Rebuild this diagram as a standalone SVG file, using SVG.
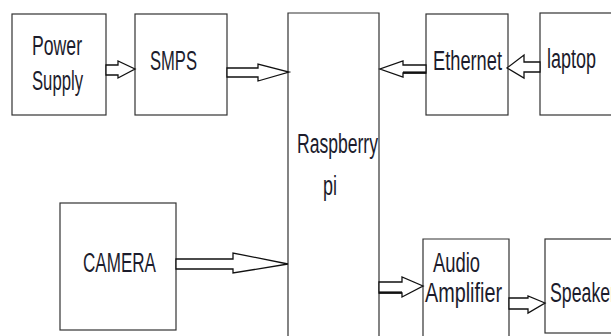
<svg xmlns="http://www.w3.org/2000/svg" width="611" height="336" viewBox="0 0 611 336">
<style>
.box{fill:#fff;stroke:#333;stroke-width:1.2}
.lbl{font-family:"Liberation Sans",Arial,sans-serif;font-size:27px;fill:#1c1c2c}
.arr{fill:#fff;stroke:#111;stroke-width:1.3;stroke-linejoin:miter}
.thick{stroke:#111;stroke-width:2.2}
</style>
<rect width="611" height="336" fill="#fff"/>
<g id="power-supply">
<rect class="box" x="12" y="14" width="94" height="101"/>
<text class="lbl" x="32" y="55" textLength="50" lengthAdjust="spacingAndGlyphs">Power</text>
<text class="lbl" x="32" y="90" textLength="51" lengthAdjust="spacingAndGlyphs">Supply</text>
</g>
<g id="smps">
<rect class="box" x="135" y="14" width="92" height="101"/>
<text class="lbl" x="150" y="70" textLength="47" lengthAdjust="spacingAndGlyphs">SMPS</text>
</g>
<g id="raspberry-pi">
<path class="box" d="M288,340 V13 H379 V340"/>
<text class="lbl" x="297" y="153" textLength="81" lengthAdjust="spacingAndGlyphs">Raspberry</text>
<text class="lbl" x="323" y="195" textLength="14" lengthAdjust="spacingAndGlyphs">pi</text>
</g>
<g id="ethernet">
<rect class="box" x="426" y="14" width="82" height="101"/>
<text class="lbl" x="433" y="70" textLength="69" lengthAdjust="spacingAndGlyphs">Ethernet</text>
</g>
<g id="laptop">
<rect class="box" x="540" y="13" width="90" height="102"/>
<text class="lbl" x="547" y="68" textLength="49" lengthAdjust="spacingAndGlyphs">laptop</text>
</g>
<g id="camera">
<rect class="box" x="60" y="203" width="116" height="127"/>
<text class="lbl" x="83" y="272" textLength="73" lengthAdjust="spacingAndGlyphs">CAMERA</text>
</g>
<g id="audio-amplifier">
<path class="box" d="M423,340 V239 H509 V340"/>
<text class="lbl" x="433" y="272" textLength="47" lengthAdjust="spacingAndGlyphs">Audio</text>
<text class="lbl" x="425" y="302" textLength="77" lengthAdjust="spacingAndGlyphs">Amplifier</text>
</g>
<g id="speaker">
<rect class="box" x="545" y="239" width="90" height="94"/>
<text class="lbl" x="550" y="302" textLength="66" lengthAdjust="spacingAndGlyphs">Speaker</text>
</g>
<g id="connectors">
<polygon class="arr" points="106,65 118,65 118,61 135,69 118,78 118,75 106,75"/>
<polygon class="arr" points="227,68 258,68 258,64 289,72 258,81 258,77 227,77"/>
<polygon class="arr" points="426,65 403,65 403,61 380,69 403,77 403,73 426,73"/>
<line class="thick" x1="403" y1="72.5" x2="426" y2="72.5"/>
<polygon class="arr" points="540,62 524,62 524,55 507,68 524,78 524,72 540,72"/>
<polygon class="arr" points="176,259 233,259 233,253 288,264 233,273 233,269 176,269"/>
<polygon class="arr" points="379,282 402,282 402,277 423,286 402,297 402,293 379,293"/>
<line class="thick" x1="379" y1="292.5" x2="402" y2="292.5"/>
<polygon class="arr" points="509,298 528,298 528,296 545,303 528,313 528,309 509,309"/>
</g>
</svg>
